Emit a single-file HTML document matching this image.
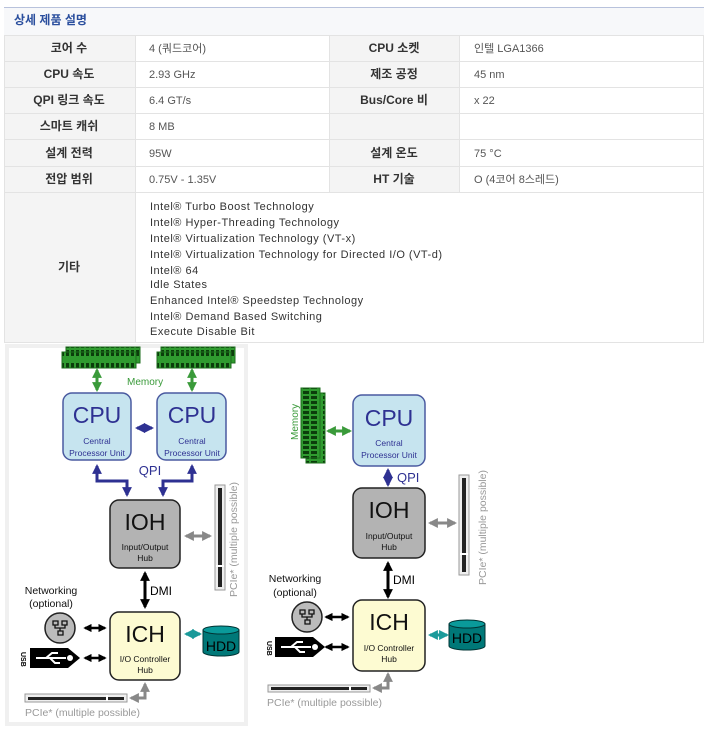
<!DOCTYPE html>
<html><head><meta charset="utf-8"><style>
html,body{margin:0;padding:0;background:#fff;width:706px;height:753px;overflow:hidden}
svg{display:block}
.k{font-family:"Liberation Sans","Noto Sans CJK KR",sans-serif}
</style></head><body>
<svg width="706" height="753" viewBox="0 0 706 753" xmlns="http://www.w3.org/2000/svg" class="k">
<defs>
<marker id="aN" viewBox="0 0 10 10" refX="8" refY="5" markerWidth="3.3" markerHeight="3.3" orient="auto-start-reverse"><path d="M0,0L10,5L0,10z" fill="#2e3192"/></marker>
<marker id="aG" viewBox="0 0 10 10" refX="8" refY="5" markerWidth="3.3" markerHeight="3.3" orient="auto-start-reverse"><path d="M0,0L10,5L0,10z" fill="#3a9a3a"/></marker>
<marker id="aB" viewBox="0 0 10 10" refX="8" refY="5" markerWidth="3.3" markerHeight="3.3" orient="auto-start-reverse"><path d="M0,0L10,5L0,10z" fill="#000"/></marker>
<marker id="aY" viewBox="0 0 10 10" refX="8" refY="5" markerWidth="3.3" markerHeight="3.3" orient="auto-start-reverse"><path d="M0,0L10,5L0,10z" fill="#888"/></marker>
<marker id="aT" viewBox="0 0 10 10" refX="8" refY="5" markerWidth="3.3" markerHeight="3.3" orient="auto-start-reverse"><path d="M0,0L10,5L0,10z" fill="#1a9a9a"/></marker>
<pattern id="memH" width="5" height="20" patternUnits="userSpaceOnUse"><rect width="5" height="20" fill="#2f9a2f"/><rect x="1" y="3" width="3" height="5" fill="#0b3d0b"/><rect x="1" y="10" width="3" height="6" fill="#0b3d0b"/></pattern>
<pattern id="memV" width="20" height="5" patternUnits="userSpaceOnUse"><rect width="20" height="5" fill="#2f9a2f"/><rect x="3" y="1" width="6" height="3" fill="#0b3d0b"/><rect x="11" y="1" width="6" height="3" fill="#0b3d0b"/></pattern>
</defs>

<rect x="4" y="7" width="700" height="335" fill="#fff"/>
<line x1="4" y1="7.5" x2="704" y2="7.5" stroke="#b8c2dc"/>
<rect x="4" y="8" width="700" height="27" fill="#f7f8fa"/>
<text x="14" y="24" font-size="12" font-weight="bold" fill="#2b4f9e">상세 제품 설명</text>
<g fill="#f4f4f4">
<rect x="4" y="35" width="131" height="157"/><rect x="329" y="35" width="130" height="157"/><rect x="4" y="192" width="131" height="150"/>
</g>
<g stroke="#e3e3e3" stroke-width="1">
<line x1="4" y1="35.5" x2="704" y2="35.5"/><line x1="4" y1="61.5" x2="704" y2="61.5"/><line x1="4" y1="87.5" x2="704" y2="87.5"/><line x1="4" y1="113.5" x2="704" y2="113.5"/><line x1="4" y1="139.5" x2="704" y2="139.5"/><line x1="4" y1="166.5" x2="704" y2="166.5"/><line x1="4" y1="192.5" x2="704" y2="192.5"/><line x1="4" y1="342.5" x2="704" y2="342.5"/>
<line x1="135.5" y1="35" x2="135.5" y2="342"/><line x1="329.5" y1="35" x2="329.5" y2="192"/><line x1="459.5" y1="35" x2="459.5" y2="192"/><line x1="703.5" y1="35" x2="703.5" y2="342"/><line x1="4.5" y1="35" x2="4.5" y2="342"/>
</g>
<g font-size="12" font-weight="bold" fill="#333" text-anchor="middle">
<text x="69" y="52">코어 수</text><text x="69" y="78">CPU 속도</text><text x="69" y="104">QPI 링크 속도</text><text x="69" y="130">스마트 캐쉬</text><text x="69" y="157">설계 전력</text><text x="69" y="183">전압 범위</text><text x="69" y="271">기타</text>
<text x="394" y="52">CPU 소켓</text><text x="394" y="78">제조 공정</text><text x="394" y="104">Bus/Core 비</text><text x="394" y="157">설계 온도</text><text x="394" y="183">HT 기술</text>
</g>
<g font-size="11" fill="#555">
<text x="149" y="52">4 (쿼드코어)</text><text x="149" y="78">2.93 GHz</text><text x="149" y="104">6.4 GT/s</text><text x="149" y="130">8 MB</text><text x="149" y="157">95W</text><text x="149" y="183">0.75V - 1.35V</text>
<text x="474" y="52">인텔 LGA1366</text><text x="474" y="78">45 nm</text><text x="474" y="104">x 22</text><text x="474" y="157">75 °C</text><text x="474" y="183">O (4코어 8스레드)</text>
</g>
<g font-size="11" fill="#333" letter-spacing="0.5">
<text x="150" y="210">Intel® Turbo Boost Technology</text>
<text x="150" y="226">Intel® Hyper-Threading Technology</text>
<text x="150" y="242">Intel® Virtualization Technology (VT-x)</text>
<text x="150" y="258">Intel® Virtualization Technology for Directed I/O (VT-d)</text>
<text x="150" y="274">Intel® 64</text>
<text x="150" y="288">Idle States</text>
<text x="150" y="304">Enhanced Intel® Speedstep Technology</text>
<text x="150" y="320">Intel® Demand Based Switching</text>
<text x="150" y="335">Execute Disable Bit</text>
</g>

<rect x="5" y="344" width="243" height="382" fill="#f0f0f0"/>
<rect x="9" y="348" width="235" height="374" fill="#fff"/>
<rect x="66" y="347" width="74" height="16" fill="url(#memH)" stroke="#1d6e1d"/>
<rect x="62" y="352" width="74" height="16" fill="url(#memH)" stroke="#1d6e1d"/>
<rect x="161" y="347" width="74" height="16" fill="url(#memH)" stroke="#1d6e1d"/>
<rect x="157" y="352" width="74" height="16" fill="url(#memH)" stroke="#1d6e1d"/>
<text x="127" y="385" font-size="10" fill="#3a9a3a">Memory</text>
<g stroke="#3a9a3a" stroke-width="3" marker-start="url(#aG)" marker-end="url(#aG)"><line x1="97" y1="370" x2="97" y2="390"/><line x1="192" y1="370" x2="192" y2="390"/></g>
<rect x="63" y="393" width="68" height="67" rx="9" fill="#c6e4ef" stroke="#4a5aa0" stroke-width="1.5"/>
<rect x="157" y="393" width="69" height="67" rx="9" fill="#c6e4ef" stroke="#4a5aa0" stroke-width="1.5"/>
<g fill="#2e3192" text-anchor="middle"><text x="97" y="423" font-size="23">CPU</text><text x="192" y="423" font-size="23">CPU</text>
<text x="97" y="444" font-size="8.5">Central</text><text x="97" y="456" font-size="8.5">Processor Unit</text>
<text x="192" y="444" font-size="8.5">Central</text><text x="192" y="456" font-size="8.5">Processor Unit</text>
<text x="150" y="475" font-size="13">QPI</text></g>
<g stroke="#2e3192" stroke-width="3" fill="none">
<line x1="137" y1="428" x2="152" y2="428" marker-start="url(#aN)" marker-end="url(#aN)"/>
<polyline points="97,466 97,481 127,481 127,495" marker-start="url(#aN)" marker-end="url(#aN)"/>
<polyline points="192,466 192,481 163,481 163,495" marker-start="url(#aN)" marker-end="url(#aN)"/>
</g>
<rect x="110" y="500" width="70" height="68" rx="9" fill="#b3b3b3" stroke="#222" stroke-width="1.5"/>
<g text-anchor="middle" fill="#111"><text x="145" y="530" font-size="23">IOH</text><text x="145" y="550" font-size="8.5">Input/Output</text><text x="145" y="561" font-size="8.5">Hub</text></g>
<line x1="186" y1="536" x2="210" y2="536" stroke="#888" stroke-width="3" marker-start="url(#aY)" marker-end="url(#aY)"/>
<rect x="215" y="485" width="10" height="105" fill="#eee" stroke="#999"/><rect x="218" y="488" width="4" height="99" fill="#222"/><rect x="216" y="565" width="8" height="2" fill="#fff"/>
<text transform="translate(237,597) rotate(-90)" font-size="10.5" fill="#999">PCIe* (multiple possible)</text>
<line x1="145" y1="573" x2="145" y2="607" stroke="#000" stroke-width="3" marker-start="url(#aB)" marker-end="url(#aB)"/>
<text x="150" y="595" font-size="12" fill="#000">DMI</text>
<rect x="110" y="612" width="70" height="68" rx="9" fill="#fdfbd2" stroke="#222" stroke-width="1.5"/>
<g text-anchor="middle" fill="#111"><text x="145" y="642" font-size="23">ICH</text><text x="145" y="662" font-size="8.5">I/O Controller</text><text x="145" y="673" font-size="8.5">Hub</text></g>
<g fill="#111" font-size="10.5" text-anchor="middle"><text x="51" y="594">Networking</text><text x="51" y="607">(optional)</text></g>
<circle cx="60" cy="628" r="15" fill="#bbb" stroke="#222" stroke-width="1.5"/>
<path d="M53,621h5v4h-5z M62,621h5v4h-5z M58,631h5v4h-5z M55,625v3h10v-3 M60,628v3" fill="none" stroke="#111" stroke-width="1.3"/>
<g stroke="#000" stroke-width="2.5" marker-start="url(#aB)" marker-end="url(#aB)"><line x1="85" y1="628" x2="105" y2="628"/><line x1="85" y1="658" x2="105" y2="658"/></g>
<path d="M30,648h38l12,10l-12,10h-38z" fill="#000"/>
<path d="M36,658h30 M46,658l6,-5h6 M50,658l5,5h5" stroke="#fff" stroke-width="2" fill="none"/><circle cx="70" cy="658" r="3" fill="#fff"/>
<text transform="translate(21,652) rotate(90)" font-size="7" font-weight="bold" fill="#000">USB</text>
<line x1="186" y1="634" x2="200" y2="634" stroke="#1a9a9a" stroke-width="3" marker-start="url(#aT)" marker-end="url(#aT)"/>
<path d="M203,630v22a18,4 0 0 0 36,0v-22z" fill="#007878" stroke="#033" stroke-width="1"/><ellipse cx="221" cy="630" rx="18" ry="4" fill="#0a9a9a" stroke="#033"/>
<text x="221" y="651" font-size="14" text-anchor="middle" fill="#000">HDD</text>
<rect x="25" y="694" width="102" height="8" fill="#eee" stroke="#999"/><rect x="28" y="697" width="96" height="3" fill="#222"/><rect x="106" y="695" width="2" height="6" fill="#fff"/>
<polyline points="145,684 145,698 131,698" fill="none" stroke="#888" stroke-width="3" marker-start="url(#aY)" marker-end="url(#aY)"/>
<text x="25" y="716" font-size="10.5" fill="#999">PCIe* (multiple possible)</text>

<rect x="306" y="393" width="19" height="70" fill="url(#memV)" stroke="#1d6e1d"/>
<rect x="301" y="388" width="19" height="70" fill="url(#memV)" stroke="#1d6e1d"/>
<text transform="translate(298,440) rotate(-90)" font-size="10" fill="#3a9a3a">Memory</text>
<line x1="328" y1="431" x2="350" y2="431" stroke="#3a9a3a" stroke-width="3" marker-start="url(#aG)" marker-end="url(#aG)"/>
<rect x="353" y="395" width="72" height="71" rx="9" fill="#c6e4ef" stroke="#4a5aa0" stroke-width="1.5"/>
<g fill="#2e3192" text-anchor="middle"><text x="389" y="426" font-size="23">CPU</text><text x="389" y="446" font-size="8.5">Central</text><text x="389" y="458" font-size="8.5">Processor Unit</text></g>
<line x1="388" y1="470" x2="388" y2="485" stroke="#2e3192" stroke-width="3" marker-start="url(#aN)" marker-end="url(#aN)"/>
<text x="397" y="482" font-size="13" fill="#2e3192">QPI</text>
<rect x="353" y="488" width="72" height="70" rx="9" fill="#b3b3b3" stroke="#222" stroke-width="1.5"/>
<g text-anchor="middle" fill="#111"><text x="389" y="518" font-size="23">IOH</text><text x="389" y="539" font-size="8.5">Input/Output</text><text x="389" y="550" font-size="8.5">Hub</text></g>
<line x1="430" y1="523" x2="455" y2="523" stroke="#888" stroke-width="3" marker-start="url(#aY)" marker-end="url(#aY)"/>
<rect x="459" y="475" width="10" height="100" fill="#eee" stroke="#999"/><rect x="462" y="478" width="4" height="94" fill="#222"/><rect x="460" y="553" width="8" height="2" fill="#fff"/>
<text transform="translate(486,585) rotate(-90)" font-size="10.5" fill="#999">PCIe* (multiple possible)</text>
<line x1="388" y1="563" x2="388" y2="597" stroke="#000" stroke-width="3" marker-start="url(#aB)" marker-end="url(#aB)"/>
<text x="393" y="584" font-size="12" fill="#000">DMI</text>
<rect x="353" y="600" width="72" height="71" rx="9" fill="#fdfbd2" stroke="#222" stroke-width="1.5"/>
<g text-anchor="middle" fill="#111"><text x="389" y="630" font-size="23">ICH</text><text x="389" y="651" font-size="8.5">I/O Controller</text><text x="389" y="662" font-size="8.5">Hub</text></g>
<g fill="#111" font-size="10.5" text-anchor="middle"><text x="295" y="582">Networking</text><text x="295" y="596">(optional)</text></g>
<circle cx="307" cy="617" r="15" fill="#bbb" stroke="#222" stroke-width="1.5"/>
<path d="M300,610h5v4h-5z M309,610h5v4h-5z M305,620h5v4h-5z M302,614v3h10v-3 M307,617v3" fill="none" stroke="#111" stroke-width="1.3"/>
<g stroke="#000" stroke-width="2.5" marker-start="url(#aB)" marker-end="url(#aB)"><line x1="326" y1="617" x2="348" y2="617"/><line x1="326" y1="647" x2="348" y2="647"/></g>
<path d="M275,637h38l12,10l-12,10h-38z" fill="#000"/>
<path d="M281,647h30 M291,647l6,-5h6 M295,647l5,5h5" stroke="#fff" stroke-width="2" fill="none"/><circle cx="315" cy="647" r="3" fill="#fff"/>
<text transform="translate(267,641) rotate(90)" font-size="7" font-weight="bold" fill="#000">USB</text>
<line x1="430" y1="635" x2="447" y2="635" stroke="#1a9a9a" stroke-width="3" marker-start="url(#aT)" marker-end="url(#aT)"/>
<path d="M449,624v22a18,4 0 0 0 36,0v-22z" fill="#007878" stroke="#033"/><ellipse cx="467" cy="624" rx="18" ry="4" fill="#0a9a9a" stroke="#033"/>
<text x="467" y="643" font-size="14" text-anchor="middle" fill="#000">HDD</text>
<rect x="268" y="685" width="102" height="7" fill="#eee" stroke="#999"/><rect x="271" y="687" width="96" height="3" fill="#222"/><rect x="349" y="686" width="2" height="5" fill="#fff"/>
<polyline points="388,674 388,688 374,688" fill="none" stroke="#888" stroke-width="3" marker-start="url(#aY)" marker-end="url(#aY)"/>
<text x="267" y="706" font-size="10.5" fill="#999">PCIe* (multiple possible)</text>
</svg>
</body></html>
